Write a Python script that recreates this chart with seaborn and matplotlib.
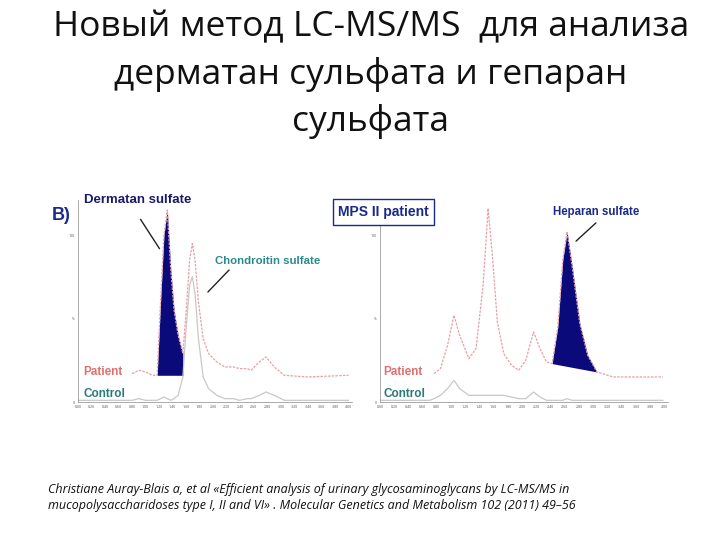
import matplotlib
matplotlib.use("Agg")
import matplotlib.pyplot as plt
import seaborn as sns
import pandas as pd

sns.set_style("white")
plt.rcParams['font.family'] = ['Open Sans', 'DejaVu Sans']

# Left panel (dermatan / chondroitin)
left_x       = [0.00, 0.60, 0.80, 0.90, 1.00, 1.10, 1.17, 1.22, 1.27, 1.32, 1.37, 1.42, 1.48, 1.55, 1.60, 1.65, 1.69, 1.73, 1.78, 1.85, 1.93, 2.05, 2.17, 2.30, 2.39, 2.50, 2.56, 2.68, 2.78, 2.90, 3.05, 3.40, 4.00]
left_patient = [None, None, 17, 19, 18, 16, 16, 60, 100, 115, 80, 55, 40, 29, 55, 85, 95, 85, 60, 38, 29, 24, 21, 21, 20, 20, 19, 24, 27, 21, 16, 15, 16]
left_control = [1, 1, 1, 2, 1, 1, 1, 2, 3, 2, 1, 2, 4, 15, 45, 70, 75, 65, 38, 15, 8, 4, 2, 2, 1, 2, 2, 4, 6, 4, 1, 1, 1]
left_fill = (1.17, 1.55)

# Right panel (heparan)
right_x       = [0.00, 0.70, 0.76, 0.85, 0.95, 1.04, 1.12, 1.25, 1.35, 1.45, 1.52, 1.58, 1.65, 1.74, 1.85, 1.95, 2.05, 2.16, 2.25, 2.34, 2.42, 2.50, 2.57, 2.63, 2.70, 2.81, 2.92, 3.05, 3.28, 3.98]
right_patient = [None, None, 17, 20, 34, 52, 40, 26, 32, 70, 116, 88, 48, 29, 22, 19, 25, 42, 32, 24, 23, 45, 85, 102, 82, 47, 28, 18, 15, 15]
right_control = [1, 1, 2, 4, 8, 13, 8, 4, 4, 4, 4, 4, 4, 4, 3, 2, 2, 6, 3, 1, 1, 1, 1, 2, 1, 1, 1, 1, 1, 1]
right_fill = (2.42, 3.05)

xticks = [i * 0.2 for i in range(21)]

fig = plt.figure(figsize=(7.2, 5.4), dpi=100)
W, H = 720, 540

def mkax(x0, x1, y0, y1):
    return fig.add_axes([x0 / W, 1 - y1 / H, (x1 - x0) / W, (y1 - y0) / H])

navy = "#0a0a7a"
pink = "#e8a0a8"
grey = "#c8c8c8"

def panel(ax, xs, pat, con, fill, base):
    df = pd.DataFrame({"x": xs, "p": pat, "c": con}).astype(float)
    sns.lineplot(data=df, x="x", y="c", ax=ax, color=grey, lw=0.9)
    sns.lineplot(data=df.dropna(), x="x", y="p", ax=ax, color=pink, lw=0.9, ls=(0, (2, 1)))
    sub = df[(df.x >= fill[0]) & (df.x <= fill[1])]
    b0, b1 = base
    bl = b0 + (sub.x - fill[0]) / (fill[1] - fill[0]) * (b1 - b0)
    ax.fill_between(sub.x, bl, sub.p, color=navy, lw=0)
    ax.set_xlim(0, 4.05)
    ax.set_ylim(0, 121)
    ax.set_xticks(xticks)
    ax.set_xticklabels([f"{t:.2f}" for t in xticks], fontsize=2.6, color="#555")
    ax.set_yticks([0, 50, 100])
    ax.set_yticklabels(["0", "%", "100"], fontsize=2.6, color="#555")
    ax.tick_params(length=1.5, width=0.4, pad=1)
    for s in ["top", "right"]:
        ax.spines[s].set_visible(False)
    for s in ["left", "bottom"]:
        ax.spines[s].set_linewidth(0.5)
        ax.spines[s].set_color("#888")
    ax.set_xlabel("")
    ax.set_ylabel("")
    ax.patch.set_alpha(0)

axL = mkax(78, 352, 200, 402)
panel(axL, left_x, left_patient, left_control, left_fill, (16, 16))
axR = mkax(380, 668, 200, 402)
panel(axR, right_x, right_patient, right_control, right_fill, (23, 18))

# Title
for y, t in [(27, "Новый метод LC-MS/MS  для анализа"), (75, "дерматан сульфата и гепаран"), (122, "сульфата")]:
    fig.text(371 / W, 1 - y / H, t, fontsize=25.5, ha="center", va="center", color="#111")

def ft(x, y, s, **kw):
    fig.text(x / W, 1 - y / H, s, va="center", **kw)

ft(52, 215, "B)", fontsize=13, fontweight="bold", color="#1a2a8a", family="Liberation Sans")
ft(84, 200, "Dermatan sulfate", fontsize=9.5, fontweight="bold", color="#1a1a6a", family="Liberation Sans")
ft(215, 261, "Chondroitin sulfate", fontsize=8.2, fontweight="bold", color="#2a8a8a", family="Liberation Sans")
ft(553, 212, "Heparan sulfate", fontsize=8.3, fontweight="bold", color="#1a2a8a", family="Liberation Sans")
ft(383.5, 212, "MPS II patient", fontsize=10, fontweight="bold", color="#1a2a8a", family="Liberation Sans",
   ha="center", bbox=dict(boxstyle="square,pad=0.4", fc="white", ec="#1a2a8a", lw=1))
for x0 in (83, 383):
    ft(x0, 372, "Patient", fontsize=8.5, fontweight="bold", color="#e07070", family="Liberation Sans")
    ft(x0, 394, "Control", fontsize=8.5, fontweight="bold", color="#2a7a7a", family="Liberation Sans")

def arrow(x0, y0, x1, y1):
    fig.add_artist(matplotlib.patches.FancyArrowPatch((x0 / W, 1 - y0 / H), (x1 / W, 1 - y1 / H),
                   transform=fig.transFigure, arrowstyle="-", lw=1, color="#222"))

arrow(139, 217, 161, 251)
arrow(231, 268, 206, 294)
arrow(598, 221, 574, 243)

ft(48, 489, "Christiane Auray-Blais a, et al «Efficient analysis of urinary glycosaminoglycans by LC-MS/MS in",
   fontsize=9, style="italic", color="#111")
ft(48, 505, "mucopolysaccharidoses type I, II and VI» . Molecular Genetics and Metabolism 102 (2011) 49–56",
   fontsize=9, style="italic", color="#111")

fig.savefig("out.png", dpi=100)
